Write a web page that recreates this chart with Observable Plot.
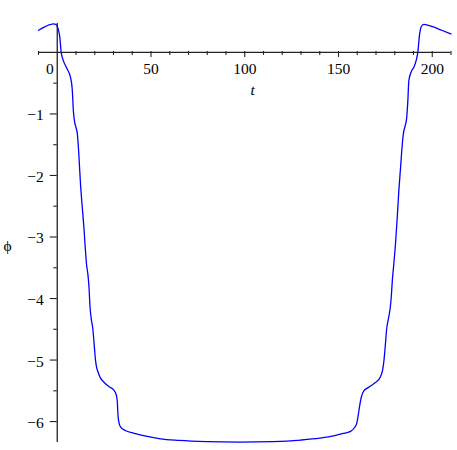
<!DOCTYPE html>
<html><head><meta charset="utf-8">
<script src="https://cdn.jsdelivr.net/npm/d3@7"></script>
<script src="https://cdn.jsdelivr.net/npm/@observablehq/plot@0.6"></script>
<style>body{margin:0;background:#fff}</style>
</head><body><div id="chart"></div>
<script>
const tValues = [-10,-7,-4,-2,-0.5,0.5,1.4,2.1,3.2,5.3,7.1,8.0,8.6,9.2,10.0,10.7,11.5,12.4,13.3,14.2,15.0,15.6,16.4,17.0,17.4,18.0,19.0,19.7,20.4,21.0,21.7,23.0,24.9,27.5,30.2,31.4,32.0,32.3,32.8,33.8,36,41,48,55,65,80,97,115,130,140,148,153,156.4,158.5,159.8,160.5,161.2,162.2,163.5,166.2,169.5,172.4,173.6,174.2,175.0,175.6,176.8,177.6,178.2,178.7,179.5,180.4,181.3,182.2,183.1,184.0,184.6,185.5,186.3,187.0,187.5,189.0,190.2,191.5,192.3,193.2,194.0,195.5,198,201,205,210];
const phiValues = [0.36,0.41,0.45,0.465,0.45,0.38,0.24,0.0,-0.13,-0.27,-0.41,-0.60,-0.95,-1.12,-1.22,-1.32,-1.65,-2.14,-2.5,-2.84,-3.2,-3.44,-3.62,-3.85,-4.1,-4.3,-4.5,-4.75,-5.0,-5.12,-5.19,-5.29,-5.36,-5.43,-5.49,-5.56,-5.66,-5.85,-6.0,-6.09,-6.14,-6.19,-6.24,-6.28,-6.305,-6.325,-6.333,-6.325,-6.30,-6.27,-6.23,-6.19,-6.16,-6.1,-6.02,-5.9,-5.76,-5.6,-5.5,-5.44,-5.37,-5.27,-5.15,-5.02,-4.75,-4.52,-4.3,-4.15,-3.95,-3.71,-3.44,-3.11,-2.7,-2.24,-1.87,-1.5,-1.32,-1.2,-1.08,-0.78,-0.46,-0.30,-0.24,-0.12,0.0,0.28,0.41,0.455,0.44,0.41,0.36,0.30];
const xMajorTicks = [50,100,150,200];
const xZeroLabel = [0];
const xMinorTicks = [-10,10,20,30,40,60,70,80,90,110,120,130,140,160,170,180,190,210];
const yMajorTicks = [-1,-2,-3,-4,-5,-6];
const yMinorTicks = [-0.5,-1.5,-2.5,-3.5,-4.5,-5.5];
const xDomain = [-10,210];
const yDomain = [-6.34,0.47];

const data = tValues.map((t,i)=>({t, phi: phiValues[i]}));
const font = "Liberation Serif";
const minus = d => (d < 0 ? "\u2212" : "") + Math.abs(d);

const chart = Plot.plot({
  width: 457, height: 450,
  marginLeft: 38, marginRight: 6.5, marginTop: 23, marginBottom: 8,
  x: {domain: xDomain, axis: null},
  y: {domain: yDomain, axis: null},
  style: {fontFamily: font, fontSize: "15px", background: "#fff"},
  marks: [
    Plot.ruleY([0], {x1: xDomain[0], x2: xDomain[1], stroke: "#222", strokeWidth: 1.3}),
    Plot.ruleX([0], {y1: yDomain[0], y2: yDomain[1], stroke: "#222", strokeWidth: 1.3}),
    Plot.ruleX(xMinorTicks, {x: d=>d, y1: 0, y2: 0, insetTop: -1, insetBottom: -3, stroke: "#222", strokeWidth: 1.1}),
    Plot.ruleX(xMajorTicks, {x: d=>d, y1: 0, y2: 0, insetTop: -1, insetBottom: -5, stroke: "#222", strokeWidth: 1.1}),
    Plot.ruleY(yMinorTicks, {y: d=>d, x1: 0, x2: 0, insetLeft: -3.5, insetRight: 0, stroke: "#222", strokeWidth: 1.1}),
    Plot.ruleY(yMajorTicks, {y: d=>d, x1: 0, x2: 0, insetLeft: -7, insetRight: 0, stroke: "#222", strokeWidth: 1.1}),
    Plot.text(xMajorTicks, {x: d=>d, y: 0, dy: 17, text: d=>String(d), fill: "#000", fontSize: 15.5, fontFamily: font}),
    Plot.text(xZeroLabel, {x: d=>d, y: 0, dx: -7.5, dy: 17, text: d=>String(d), fill: "#000", fontSize: 15.5, fontFamily: font}),
    Plot.text(yMajorTicks, {x: 0, y: d=>d, dx: -13.5, dy: 1.5, textAnchor: "end", text: minus, fill: "#000", fontSize: 15.5, fontFamily: font}),
    Plot.text(["t"], {frameAnchor: "top", dx: 8, dy: 60, text: d=>d, fontStyle: "italic", fill: "#000", fontSize: 15.5, fontFamily: font}),
    Plot.text(["\u03d5"], {frameAnchor: "left", dx: -35, dy: 13, text: d=>d, fill: "#000", fontSize: 15.5, fontFamily: font}),
    Plot.line(data, {x: "t", y: "phi", stroke: "#0000ff", strokeWidth: 1.3, curve: "monotone-x"})
  ]
});
d3.select(chart).selectAll("text").attr("font-family", font).style("font-family", "'Liberation Serif', serif");
document.getElementById("chart").appendChild(chart);
</script>
</body></html>
